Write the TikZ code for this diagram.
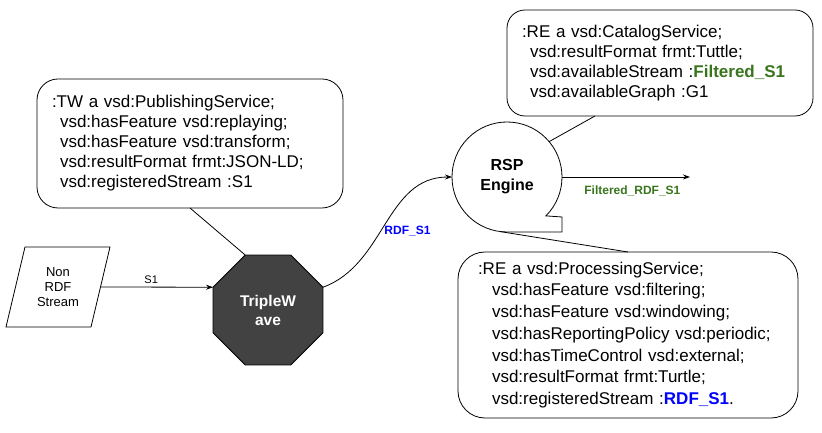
\documentclass[tikz,border=0pt]{standalone}
\usepackage{fontspec}
\setmainfont{Liberation Sans}
\definecolor{StreamBlue}{rgb}{0.0, 0.0, 1.0}
\definecolor{StreamGreen}{rgb}{0.22, 0.46, 0.11}
\definecolor{EngineGray}{rgb}{0.26, 0.26, 0.26}
\usetikzlibrary{shapes,shapes.geometric,arrows.meta,positioning,calc}
\tikzset{service layout/.style={%
    x=1pt,
    y=1pt,
    every node/.style={%
        outer sep=0pt
    },
    every path/.style={%
        line width=0.8pt
    }
}}
\tikzset{note box/.style={%
    draw, rounded corners=#1, align=left,
    inner xsep=15pt, inner ysep=0pt,
    font=\fontsize{17}{20}\selectfont
}}
\tikzset{source/.style={%
    rectangle, minimum width=85pt, minimum height=80pt, inner sep=0pt,
    align=center, font=\fontsize{13}{15}\selectfont
}}
\tikzset{octagon/.style={%
    draw, fill=EngineGray, regular polygon, regular polygon sides=8,
    minimum size=119pt, inner sep=0pt,
    align=center, text=white, font=\bfseries\fontsize{15.5}{19}\selectfont
}}
\tikzset{engine/.style={%
    circle, minimum size=110pt, inner sep=0pt,
    align=center, font=\bfseries\fontsize{16}{20}\selectfont
}}
\tikzset{flow/.style={%
    -{Stealth[length=7pt,width=5pt]}
}}
\tikzset{flow label/.style={%
    font=\bfseries\fontsize{12}{14}\selectfont
}}

\begin{document}
\begin{tikzpicture}[service layout]
            \useasboundingbox (0,0) rectangle (822,433);

            % descriptions
            \node (twbox) at (190,289.5) [note box=21pt, text width=276pt, minimum height=129pt] {%
                :TW a vsd:PublishingService;\\
                \hspace*{8pt}vsd:hasFeature vsd:replaying;\\
                \hspace*{8pt}vsd:hasFeature vsd:transform;\\
                \hspace*{8pt}vsd:resultFormat frmt:JSON-LD;\\
                \hspace*{8pt}vsd:registeredStream :S1};
            \node (catbox) at (660,370) [note box=18pt, text width=276pt, minimum height=106pt] {%
                :RE a vsd:CatalogService;\\
                \hspace*{8pt}vsd:resultFormat frmt:Tuttle;\\
                \hspace*{8pt}vsd:availableStream :{\bfseries\color{StreamGreen}Filtered\_S1}\\
                \hspace*{8pt}vsd:availableGraph :G1};
            \node (procbox) at (628,98) [note box=27pt, inner xsep=20pt, text width=300pt, minimum height=166pt,
                font=\fontsize{17}{21.7}\selectfont] {%
                :RE a vsd:ProcessingService;\\
                \hspace*{14pt}vsd:hasFeature vsd:filtering;\\
                \hspace*{14pt}vsd:hasFeature vsd:windowing;\\
                \hspace*{14pt}vsd:hasReportingPolicy vsd:periodic;\\
                \hspace*{14pt}vsd:hasTimeControl vsd:external;\\
                \hspace*{14pt}vsd:resultFormat frmt:Turtle;\\
                \hspace*{14pt}vsd:registeredStream :{\bfseries\color{StreamBlue}RDF\_S1}.};

            % services
            \node (src) at (58,146) [source] {Non\\RDF\\Stream};
            \draw ([xshift=9.5pt]src.north west) -- ([xshift=9.5pt]src.north east)
                -- ([xshift=-9.5pt]src.south east) -- ([xshift=-9.5pt]src.south west) -- cycle;
            \node (tw) at (268,123) [octagon] {TripleW\\ave};
            \node (rsp) at (507,256) [engine] {RSP\\Engine};
            \draw (rsp.south) -- ++(55,0) -- ++(0,15) -- (rsp.-45)
                arc[start angle=-45, end angle=270, radius=55] -- cycle;
            \coordinate (sink) at (690,256);

            \draw[flow] (src.east) -- node[pos=0.45, above, font=\fontsize{11}{13}\selectfont] {S1} (tw.corner 3);
            \draw[flow] (tw.corner 8) to [out=20, in=180]
                node[pos=0.45, right, flow label, text=StreamBlue] {RDF\_S1} (rsp.west);
            \draw[flow] (rsp.east) -- node[pos=0.55, below, yshift=-5pt, flow label, text=StreamGreen] {Filtered\_RDF\_S1} (sink);

            \draw (twbox.south) -- (tw.corner 2);
            \draw (rsp.40) -- ([xshift=88pt]catbox.south west);
            \draw (rsp.262) -- (procbox.north);
        \end{tikzpicture}
\end{document}
